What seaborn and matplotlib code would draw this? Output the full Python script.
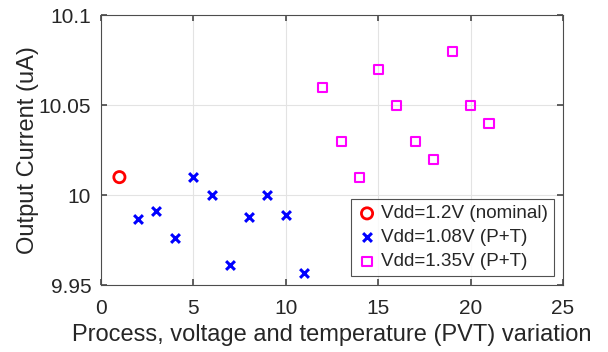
import matplotlib
matplotlib.use("Agg")
import matplotlib.pyplot as plt
import seaborn as sns
import pandas as pd

sns.set_theme(style="white")
plt.rcParams['font.family'] = ['Liberation Sans', 'DejaVu Sans']

nom_x = [1]
nom_y = [10.01]
low_x = [2, 3, 4, 5, 6, 7, 8, 9, 10, 11]
low_y = [9.987, 9.991, 9.976, 10.01, 10.0, 9.961, 9.988, 10.0, 9.989, 9.957]
high_x = [12, 13, 14, 15, 16, 17, 18, 19, 20, 21]
high_y = [10.06, 10.03, 10.01, 10.07, 10.05, 10.03, 10.02, 10.08, 10.05, 10.04]
labels = ["Vdd=1.2V (nominal)", "Vdd=1.08V (P+T)", "Vdd=1.35V (P+T)"]
xticks = [0, 5, 10, 15, 20, 25]
yticks = [9.95, 10.0, 10.05, 10.1]
yticklabels = ["9.95", "10", "10.05", "10.1"]

fig = plt.figure(figsize=(6.08, 3.52), dpi=100)
ax = fig.add_axes([0.166, 0.190, 0.760, 0.767])

df_nom = pd.DataFrame({"x": nom_x, "y": nom_y})
df_low = pd.DataFrame({"x": low_x, "y": low_y})
df_high = pd.DataFrame({"x": high_x, "y": high_y})

sns.scatterplot(data=df_nom, x="x", y="y", ax=ax, marker="o", s=65,
                facecolor="none", edgecolor="#ff0000", linewidth=2.0, label=labels[0])
sns.scatterplot(data=df_low, x="x", y="y", ax=ax, marker="x", s=40,
                color="#0000ff", linewidth=2.2, label=labels[1])
sns.scatterplot(data=df_high, x="x", y="y", ax=ax, marker="s", s=44,
                facecolor="none", edgecolor="#ff00ff", linewidth=1.5, label=labels[2])

ax.set_xlim(0, 25)
ax.set_ylim(9.95, 10.1)
ax.set_xticks(xticks)
ax.set_yticks(yticks)
ax.set_yticklabels(yticklabels)
ax.grid(True, color="#e3e3e3", linewidth=0.8)
ax.set_axisbelow(True)
for s in ax.spines.values():
    s.set_color("#4d4d4d")
    s.set_linewidth(0.8)
ax.tick_params(direction="in", length=4, color="#4d4d4d", labelsize=15,
               labelcolor="#262626", top=True, right=True, bottom=True, left=True)
ax.tick_params(axis="x", pad=10)
ax.tick_params(axis="y", pad=7)
ax.set_xlabel("Process, voltage and temperature (PVT) variation", fontsize=17, color="#262626")
ax.xaxis.set_label_coords(0.5, -0.145)
ax.set_ylabel("Output Current (uA)", fontsize=17, color="#262626")
ax.yaxis.set_label_coords(-0.135, 0.5)

leg = ax.legend(loc="lower right", fontsize=13.6, frameon=True, fancybox=False,
                edgecolor="#262626", borderaxespad=0.46, handletextpad=0.22,
                labelspacing=0.36, borderpad=0.32, handlelength=1.08)
leg.get_frame().set_linewidth(0.8)
for t in leg.get_texts():
    t.set_color("#262626")

fig.savefig("out.png", dpi=100)
